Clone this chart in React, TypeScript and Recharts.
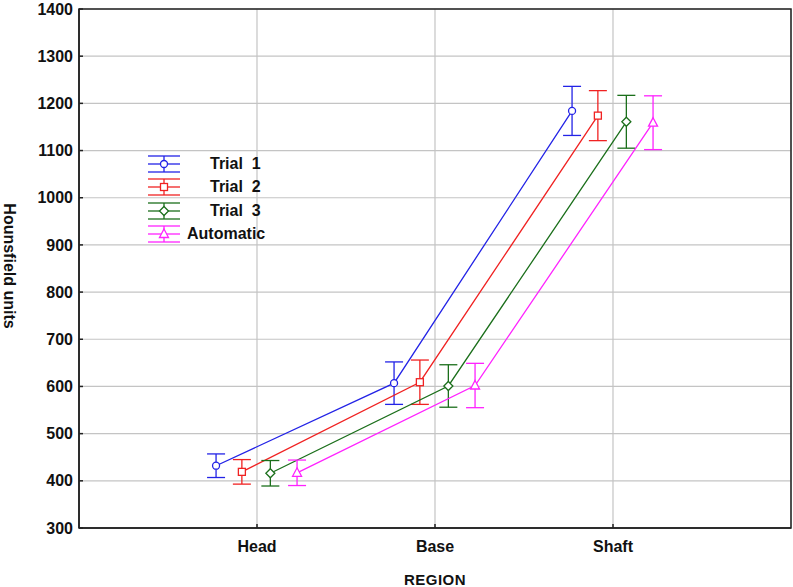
import React from 'react';
import { LineChart, Line, XAxis, YAxis, CartesianGrid, ErrorBar, ReferenceArea, Legend } from 'recharts';

const categories = ['Head', 'Base', 'Shaft'];
const seriesNames = ['Trial  1', 'Trial  2', 'Trial  3', 'Automatic'];
const trial1 = [432, 607, 1184];
const trial1Err = [25, 45, 52];
const trial2 = [419, 609, 1174];
const trial2Err = [26, 47, 53];
const trial3 = [416, 601, 1161];
const trial3Err = [27, 45, 56];
const automatic = [417, 602, 1159];
const automaticErr = [27, 47, 57];
const yTicks = [300, 400, 500, 600, 700, 800, 900, 1000, 1100, 1200, 1300, 1400];
const xTicks = [1, 2, 3];

const offsets = [-0.23, -0.085, 0.075, 0.225];
const colors = ['#2323e6', '#f02222', '#1b6f1b', '#ff22ff'];
const shapes = ['circle', 'square', 'diamond', 'triangle'];

const seriesValues = [trial1, trial2, trial3, automatic];
const seriesErrs = [trial1Err, trial2Err, trial3Err, automaticErr];

const seriesData = seriesValues.map((vals, s) =>
  vals.map((v, i) => ({ x: i + 1 + offsets[s], y: v, err: seriesErrs[s][i] }))
);

const FONT = '"Liberation Sans", Arial, sans-serif';
const X_TICK_GAP = 13;
const Y_TICK_GAP = 6;

function Marker({ shape, cx, cy, color }: { shape: string; cx: number; cy: number; color: string }) {
  const sw = 1.3;
  if (shape === 'circle') return <circle cx={cx} cy={cy} r={3.5} fill="white" stroke={color} strokeWidth={sw} />;
  if (shape === 'square') return <rect x={cx - 3.5} y={cy - 3.5} width={7} height={7} fill="white" stroke={color} strokeWidth={sw} />;
  if (shape === 'diamond')
    return <polygon points={`${cx},${cy - 4.5} ${cx + 4.5},${cy} ${cx},${cy + 4.5} ${cx - 4.5},${cy}`} fill="white" stroke={color} strokeWidth={sw} />;
  return <polygon points={`${cx},${cy - 5} ${cx + 4.5},${cy + 3.5} ${cx - 4.5},${cy + 3.5}`} fill="white" stroke={color} strokeWidth={sw} />;
}

const makeDot = (s: number) => (props: any) => {
  const { cx, cy, index } = props;
  if (cx == null || cy == null) return <g key={`d${s}-${index}`} />;
  return (
    <g key={`d${s}-${index}`}>
      <Marker shape={shapes[s]} cx={cx} cy={cy} color={colors[s]} />
    </g>
  );
};

const XTick = (props: any) => {
  const { x, y, payload } = props;
  const axisY = y - X_TICK_GAP;
  return (
    <g>
      <line x1={x} x2={x} y1={axisY - 4} y2={axisY} stroke="#222" strokeWidth={1.5} />
      <text x={x} y={y} dy="0.71em" textAnchor="middle" fontFamily={FONT} fontWeight="bold" fontSize={16} fill="#111">
        {categories[payload.value - 1] ?? ''}
      </text>
    </g>
  );
};

const YTick = (props: any) => {
  const { x, y, payload } = props;
  const axisX = x + Y_TICK_GAP;
  return (
    <g>
      <line x1={axisX} x2={axisX + 4} y1={y} y2={y} stroke="#222" strokeWidth={1.5} />
      <text x={x} y={y} dy="0.355em" textAnchor="end" fontFamily={FONT} fontWeight="bold" fontSize={16} fill="#111">
        {payload.value}
      </text>
    </g>
  );
};

const legendRows = [16, 39, 63, 86];
const legendTextX = [70, 70, 70, 47];

const LegendContent = () => (
  <svg width={140} height={104} style={{ display: 'block', overflow: 'visible' }}>
    {seriesNames.map((name, s) => {
      const cy = legendRows[s];
      const c = colors[s];
      return (
        <g key={name}>
          <line x1={8} x2={40} y1={cy - 8} y2={cy - 8} stroke={c} strokeWidth={1.3} />
          <line x1={8} x2={40} y1={cy} y2={cy} stroke={c} strokeWidth={1.3} />
          <line x1={8} x2={40} y1={cy + 8} y2={cy + 8} stroke={c} strokeWidth={1.3} />
          <line x1={24} x2={24} y1={cy - 8} y2={cy + 8} stroke={c} strokeWidth={1.3} />
          <Marker shape={shapes[s]} cx={24} cy={cy} color={c} />
          <text x={legendTextX[s]} y={cy + 5} fontFamily={FONT} fontWeight="bold" fontSize={16} fill="#111" style={{ whiteSpace: 'pre' }}>
            {name}
          </text>
        </g>
      );
    })}
  </svg>
);

export default function App() {
  return (
    <div style={{ position: 'absolute', left: 0, top: 0, width: 793, height: 587, background: '#fff' }}>
      <LineChart width={793} height={587} margin={{ top: 9, right: 2, left: 0, bottom: 0 }}>
        <CartesianGrid stroke="#c4c4c4" strokeWidth={1.2} />
        <XAxis
          type="number"
          dataKey="x"
          domain={[0, 4]}
          ticks={xTicks}
          allowDataOverflow
          height={59}
          tickSize={0}
          tickMargin={X_TICK_GAP}
          tickLine={false}
          axisLine={{ stroke: '#222', strokeWidth: 1.5 }}
          tick={XTick}
          label={{ value: 'REGION', position: 'insideBottom', offset: 2, style: { fontFamily: FONT, fontWeight: 'bold', fontSize: 15, fill: '#111', letterSpacing: 0.5 } }}
        />
        <YAxis
          type="number"
          domain={[300, 1400]}
          ticks={yTicks}
          width={79}
          tickSize={0}
          tickMargin={Y_TICK_GAP}
          tickLine={false}
          axisLine={{ stroke: '#222', strokeWidth: 1.5 }}
          tick={YTick}
          label={{
            content: () => (
              <text x={9} y={266} transform="rotate(90, 9, 266)" textAnchor="middle" dominantBaseline="central" fontFamily={FONT} fontWeight="bold" fontSize={16} fill="#111">
                Hounsfield units
              </text>
            ),
          }}
        />
        <ReferenceArea x1={0} x2={4} y1={300} y2={1400} fill="none" fillOpacity={0} stroke="#222" strokeWidth={1.5} ifOverflow="visible" />
        {seriesData.map((d, s) => (
          <Line
            key={seriesNames[s]}
            data={d}
            dataKey="y"
            name={seriesNames[s]}
            stroke={colors[s]}
            strokeWidth={1.3}
            dot={makeDot(s)}
            activeDot={false}
            isAnimationActive={false}
          >
            <ErrorBar dataKey="err" direction="y" width={9} stroke={colors[s]} strokeWidth={1.3} isAnimationActive={false} />
          </Line>
        ))}
        <Legend
          layout="vertical"
          align="center"
          verticalAlign="middle"
          content={LegendContent}
          wrapperStyle={{ position: 'absolute', left: 140, top: 148, width: 140, height: 104 }}
        />
      </LineChart>
    </div>
  );
}
